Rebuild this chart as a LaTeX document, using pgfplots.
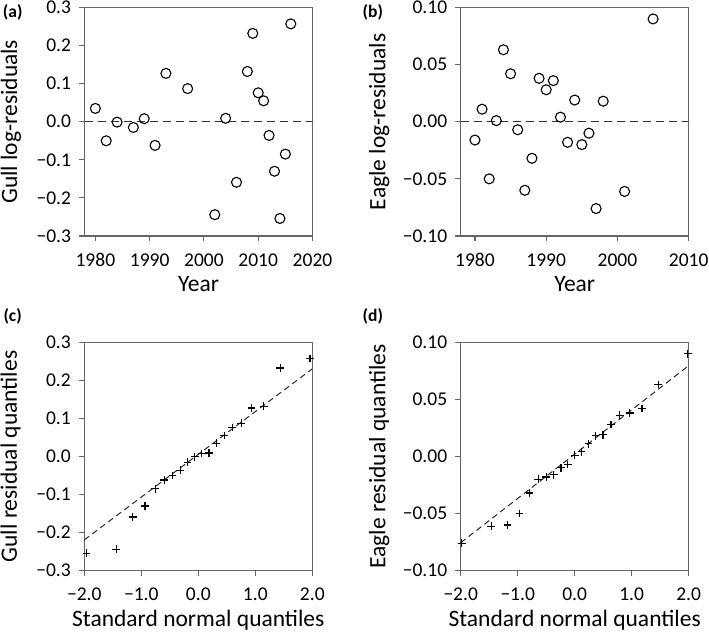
\documentclass[border=0pt]{standalone}
\usepackage{fontspec}
\setmainfont{Carlito}
\usepackage{pgfplots}
\pgfplotsset{compat=1.18}

\pgfplotsset{
  resid/.style={
    scale only axis, width=228pt, height=228.5pt,
    anchor=south west,
    axis line style={draw=black!60, line width=1.1pt},
    tick style={draw=black!60, line width=1.1pt},
    tick align=outside, major tick length=5.5pt,
    tick pos=left,
    ticklabel style={font=\fontsize{19.5}{20}\selectfont, text=black},
    xticklabel style={yshift=-8.5pt},
    yticklabel style={xshift=-4.5pt},
    label style={font=\fontsize{23.5}{24}\selectfont},
    xlabel style={at={(axis description cs:0.5,-0.245)}, anchor=base},
    ylabel style={at={(axis description cs:-0.296,0.5)}, anchor=base},
  },
  right col/.style={ylabel style={at={(axis description cs:-0.33,0.5)}}},
  circ/.style={only marks, mark=o, mark size=5pt, mark options={line width=1.1pt, draw=black}},
  plus/.style={only marks, mark=+, mark size=3.9pt, mark options={line width=1.2pt, draw=black}},
  zero/.style={dash pattern=on 8pt off 5pt, line width=1.2pt, draw=black!80},
  qline/.style={dash pattern=on 6pt off 4pt, line width=1pt, draw=black!85},
}
\tikzset{plab/.style={anchor=west, inner sep=0pt, font=\fontsize{17.5}{19}\selectfont\bfseries}}

\begin{document}
\begin{tikzpicture}
\useasboundingbox (0,0) rectangle (709pt,634pt);

% (a) gull residuals by year
\begin{axis}[resid, at={(84.5pt,398pt)},
  xmin=1978, xmax=2020, ymin=-0.3, ymax=0.3,
  xtick={1980,1990,2000,2010,2020},
  ytick={-0.3,-0.2,-0.1,0,0.1,0.2,0.3},
  yticklabels={−0.3,−0.2,−0.1,0.0,0.1,0.2,0.3},
  xticklabels={1980,1990,2000,2010,2020},
  xlabel={Year}, ylabel={Gull log-residuals}]
\addplot[zero] coordinates {(1978,0) (2020,0)};
\addplot[circ] table {
X Y
1980 0.035
1982 -0.050
1984 -0.001
1987 -0.015
1989 0.008
1991 -0.062
1993 0.127
1997 0.087
2002 -0.244
2004 0.009
2006 -0.159
2008 0.132
2009 0.232
2010 0.076
2011 0.055
2012 -0.036
2013 -0.130
2014 -0.254
2015 -0.085
2016 0.257
};
\end{axis}

% (b) eagle residuals by year
\begin{axis}[resid, right col, at={(460.7pt,398pt)},
  xmin=1978, xmax=2010, ymin=-0.1, ymax=0.1,
  xtick={1980,1990,2000,2010},
  xticklabels={1980,1990,2000,2010},
  ytick={-0.1,-0.05,0,0.05,0.1},
  yticklabels={−0.10,−0.05,0.00,0.05,0.10},
  xlabel={Year}, ylabel={Eagle log-residuals}]
\addplot[zero] coordinates {(1978,0) (2010,0)};
\addplot[circ] table {
X Y
1980 -0.016
1981 0.011
1982 -0.050
1983 0.001
1984 0.063
1985 0.042
1986 -0.007
1987 -0.060
1988 -0.032
1989 0.038
1990 0.028
1991 0.036
1992 0.004
1993 -0.018
1994 0.019
1995 -0.020
1996 -0.010
1997 -0.076
1998 0.018
2001 -0.061
2005 0.090
};
\end{axis}

% (c) gull Q-Q
\begin{axis}[resid, at={(84.3pt,63.3pt)},
  xmin=-2, xmax=2, ymin=-0.3, ymax=0.3,
  xtick={-2,-1,0,1,2},
  xticklabels={−2.0,−1.0,0.0,1.0,2.0},
  ytick={-0.3,-0.2,-0.1,0,0.1,0.2,0.3},
  yticklabels={−0.3,−0.2,−0.1,0.0,0.1,0.2,0.3},
  xlabel={Standard normal quantiles}, ylabel={Gull residual quantiles}]
\addplot[qline] coordinates {(-2,-0.219) (2,0.230)};
\addplot[plus] table {
X Y
-1.960 -0.254
-1.440 -0.244
-1.150 -0.159
-0.935 -0.130
-0.755 -0.085
-0.598 -0.062
-0.454 -0.050
-0.319 -0.036
-0.189 -0.015
-0.063 -0.001
0.063 0.008
0.189 0.009
0.319 0.035
0.454 0.055
0.598 0.076
0.755 0.087
0.935 0.127
1.150 0.132
1.440 0.232
1.960 0.257
};
\end{axis}

% (d) eagle Q-Q
\begin{axis}[resid, right col, at={(460.7pt,63.3pt)},
  xmin=-2, xmax=2, ymin=-0.1, ymax=0.1,
  xtick={-2,-1,0,1,2},
  xticklabels={−2.0,−1.0,0.0,1.0,2.0},
  ytick={-0.1,-0.05,0,0.05,0.1},
  yticklabels={−0.10,−0.05,0.00,0.05,0.10},
  xlabel={Standard normal quantiles}, ylabel={Eagle residual quantiles}]
\addplot[qline] coordinates {(-2,-0.0755) (2,0.0795)};
\addplot[plus] table {
X Y
-1.981 -0.076
-1.465 -0.061
-1.180 -0.060
-0.967 -0.050
-0.792 -0.032
-0.637 -0.020
-0.497 -0.018
-0.366 -0.016
-0.241 -0.010
-0.120 -0.007
0.000 0.001
0.120 0.004
0.241 0.011
0.366 0.018
0.497 0.019
0.637 0.028
0.792 0.036
0.967 0.038
1.180 0.042
1.465 0.063
1.981 0.090
};
\end{axis}

\node[plab] at (2.7pt,622pt) {(a)};
\node[plab] at (362.5pt,622pt) {(b)};
\node[plab] at (3.3pt,317.5pt) {(c)};
\node[plab] at (362.5pt,317.5pt) {(d)};
\end{tikzpicture}
\end{document}
